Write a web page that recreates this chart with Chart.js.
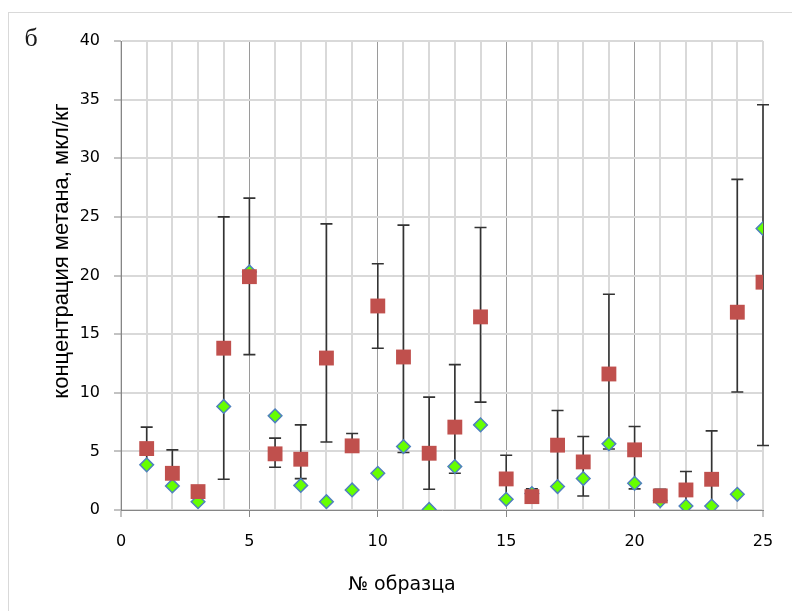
<!DOCTYPE html>
<html>
<head>
<meta charset="utf-8">
<script src="https://cdn.jsdelivr.net/npm/chart.js@4.4.0/dist/chart.umd.min.js"></script>
<style>
  html, body { margin: 0; padding: 0; background: #fff; }
  #wrap { position: relative; width: 792px; height: 611px; overflow: hidden; }
  #frame { position: absolute; left: 8px; top: 12px; width: 800px; height: 620px; border: 1px solid #d9d9d9; }
  canvas { position: absolute; left: 0; top: 0; }
</style>
</head>
<body>
<div id="wrap">
  <div id="frame"></div>
  <canvas id="methaneChart" width="792" height="611"></canvas>
</div>
<script>
// sample numbers
const sampleNo = [1, 2, 3, 4, 5, 6, 7, 8, 9, 10, 11, 12, 13, 14, 15, 16, 17, 18, 19, 20, 21, 22, 23, 24, 25];

// mean methane concentration (red squares)
const meanValues = [5.24, 3.13, 1.57, 13.8, 19.9, 4.79, 4.33, 12.96, 5.47, 17.4, 13.05, 4.84, 7.07,
    16.47, 2.65, 1.14, 5.53, 4.1, 11.6, 5.13, 1.2, 1.71, 2.62, 16.87, 19.43];

// second measurement (green diamonds)
const pointValues = [3.85, 2.05, 0.71, 8.83, 20.3, 8.03, 2.1, 0.71, 1.71, 3.13, 5.41, 0.05, 3.7,
    7.26, 0.91, 1.4, 2.0, 2.68, 5.64, 2.28, 0.8, 0.34, 0.34, 1.34, 24.0];

// error bar ends for the mean values
const errLow = [3.85, 2.05, null, 2.62, 13.25, 3.65, 2.68, 5.8, 5.0, 13.8, 4.9, 1.77, 3.13,
    9.2, 0.91, 1.4, 2.0, 1.2, 5.2, 1.8, 0.8, 0.34, 0.34, 10.06, 5.5];
const errHigh = [7.07, 5.13, null, 25.0, 26.6, 6.13, 7.26, 24.4, 6.52, 21.0, 24.3, 9.63, 12.4,
    24.1, 4.67, 1.8, 8.49, 6.27, 18.4, 7.12, 1.77, 3.28, 6.75, 28.2, 34.56];

// y ticks
const yTicks = [0, 5, 10, 15, 20, 25, 30, 35, 40];

const AXIS_GRAY = '#868686';
const GRID_LIGHT = '#d9d9d9';

let errorBarsAndTitles = {
    id: 'errorBarsAndTitles',
    beforeDatasetsDraw(chart) {
        const ctx = chart.ctx;
        const xs = chart.scales.x;
        const ys = chart.scales.y;
        ctx.save();
        ctx.strokeStyle = '#333333';
        ctx.lineWidth = 1.6;
        for (let i = 0; i < sampleNo.length; i++) {
            if (errLow[i] === null || errHigh[i] === null) continue;
            const x = xs.getPixelForValue(sampleNo[i]);
            const yLo = ys.getPixelForValue(errLow[i]);
            const yHi = ys.getPixelForValue(errHigh[i]);
            ctx.beginPath();
            ctx.moveTo(x, yLo);
            ctx.lineTo(x, yHi);
            ctx.moveTo(x - 6, yLo);
            ctx.lineTo(x + 6, yLo);
            ctx.moveTo(x - 6, yHi);
            ctx.lineTo(x + 6, yHi);
            ctx.stroke();
        }
        ctx.restore();
    },
    afterDraw(chart) {
        const ctx = chart.ctx;
        ctx.save();
        ctx.fillStyle = '#000';
        ctx.textAlign = 'center';
        ctx.textBaseline = 'middle';

        ctx.font = '22px "Liberation Sans"';
        ctx.translate(62, 251);
        ctx.rotate(-Math.PI / 2);
        ctx.fillText('концентрация метана, мкл/кг', 0, 0);
        ctx.setTransform(1, 0, 0, 1, 0, 0);

        ctx.font = '19px "DejaVu Sans"';
        ctx.fillText('№ образца', 402, 585);

        ctx.fillStyle = '#1a1a1a';
        ctx.font = '26px "Liberation Serif"';
        ctx.fillText('б', 31, 39);
        ctx.restore();
    },
};

const isMajor = (v) => v % 5 === 0;

let config = {
    type: 'scatter',
    data: {
        datasets: [
            {
                label: 'mean',
                data: sampleNo.map((n, i) => ({ x: n, y: meanValues[i] })),
                pointStyle: 'rect',
                pointRadius: 10.5,
                pointHoverRadius: 10.5,
                backgroundColor: '#c0504d',
                borderColor: '#c0504d',
                borderWidth: 0,
            },
            {
                label: 'points',
                data: sampleNo.map((n, i) => ({ x: n, y: pointValues[i] })),
                pointStyle: 'rectRot',
                pointRadius: 6.8,
                pointHoverRadius: 6.8,
                backgroundColor: '#66ff00',
                borderColor: '#4f81bd',
                borderWidth: 1.5,
            },
        ],
    },
    options: {
        responsive: false,
        animation: false,
        layout: {
            padding: { top: 41, right: 29, left: 0, bottom: 0 },
        },
        plugins: {
            legend: { display: false },
            tooltip: { enabled: false },
        },
        scales: {
            x: {
                type: 'linear',
                min: 0,
                max: 25,
                afterFit(scale) { scale.height = 101; },
                ticks: {
                    stepSize: 1,
                    autoSkip: false,
                    maxRotation: 0,
                    padding: 15,
                    color: '#000',
                    font: { family: 'DejaVu Sans', size: 16 },
                    callback: (v) => isMajor(v) ? String(v) : '',
                },
                grid: {
                    color: (c) => {
                        const v = c.tick ? c.tick.value : 0;
                        return (isMajor(v) && v !== 0 && v !== 25) ? '#9a9a9a' : GRID_LIGHT;
                    },
                    lineWidth: (c) => {
                        const v = c.tick ? c.tick.value : 0;
                        return (isMajor(v) && v !== 0 && v !== 25) ? 1 : 2;
                    },
                    tickColor: (c) => (c.tick && isMajor(c.tick.value)) ? AXIS_GRAY : 'rgba(0,0,0,0)',
                    tickLength: 7,
                    tickWidth: 1,
                },
                border: { color: AXIS_GRAY, width: 1 },
            },
            y: {
                min: 0,
                max: 40,
                afterFit(scale) { scale.width = 121; },
                afterBuildTicks(scale) { scale.ticks = yTicks.map((v) => ({ value: v })); },
                ticks: {
                    padding: 14,
                    color: '#000',
                    font: { family: 'DejaVu Sans', size: 16 },
                },
                grid: {
                    color: GRID_LIGHT,
                    lineWidth: 2,
                    tickColor: AXIS_GRAY,
                    tickLength: 7,
                    tickWidth: 1,
                },
                border: { color: AXIS_GRAY, width: 1 },
            },
        },
    },
    plugins: [errorBarsAndTitles],
};

let methaneChart = new Chart(document.getElementById('methaneChart'), config);
</script>
</body>
</html>
